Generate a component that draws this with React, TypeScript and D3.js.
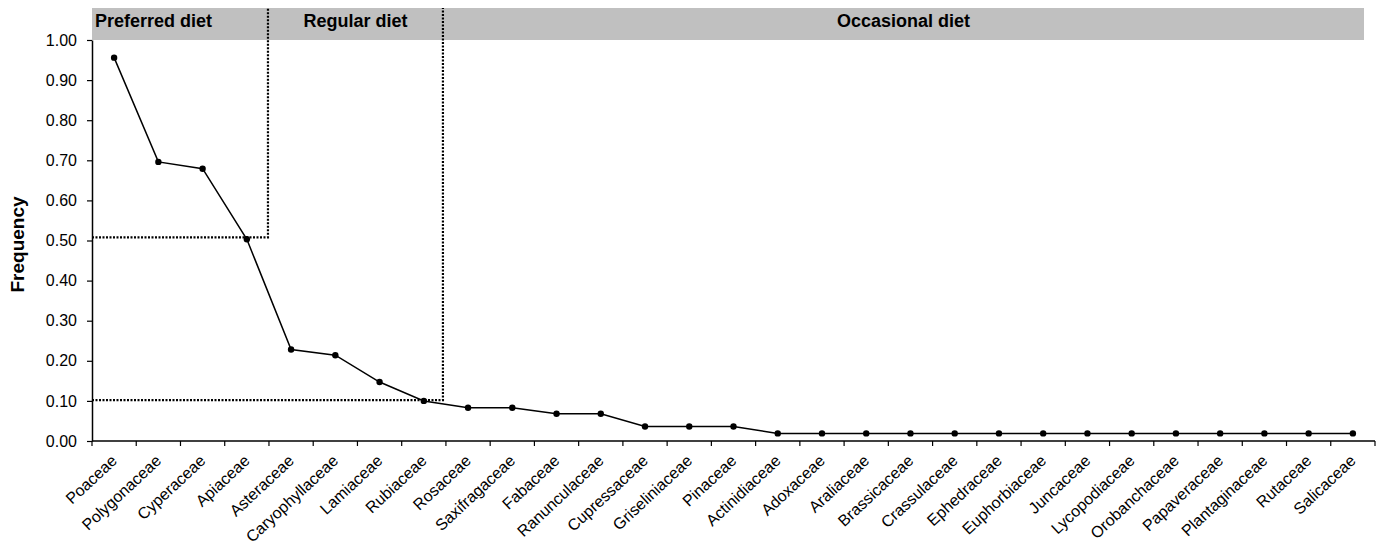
import React, { useEffect, useRef } from "react";
import * as d3 from "d3";

const families = [
  "Poaceae", "Polygonaceae", "Cyperaceae", "Apiaceae", "Asteraceae", "Caryophyllaceae",
  "Lamiaceae", "Rubiaceae", "Rosaceae", "Saxifragaceae", "Fabaceae", "Ranunculaceae",
  "Cupressaceae", "Griseliniaceae", "Pinaceae", "Actinidiaceae", "Adoxaceae", "Araliaceae",
  "Brassicaceae", "Crassulaceae", "Ephedraceae", "Euphorbiaceae", "Juncaceae",
  "Lycopodiaceae", "Orobanchaceae", "Papaveraceae", "Plantaginaceae", "Rutaceae", "Salicaceae",
];

const frequency = [
  0.956, 0.696, 0.679, 0.503, 0.228, 0.214, 0.147, 0.100, 0.083, 0.083, 0.068, 0.068,
  0.036, 0.036, 0.036, 0.019, 0.019, 0.019, 0.019, 0.019, 0.019, 0.019, 0.019,
  0.019, 0.019, 0.019, 0.019, 0.019, 0.019,
];

const yTicks = [0, 0.1, 0.2, 0.3, 0.4, 0.5, 0.6, 0.7, 0.8, 0.9, 1.0];

// diet groups: label, first category index, last category index (exclusive), threshold
const groups = [
  { label: "Preferred diet", from: 0, to: 4, threshold: 0.508 },
  { label: "Regular diet", from: 4, to: 8, threshold: 0.102 },
  { label: "Occasional diet", from: 8, to: 29, threshold: 0 },
];

const FONT = "'Liberation Sans', Arial, sans-serif";

export default function App() {
  const ref = useRef<SVGSVGElement>(null);

  useEffect(() => {
    const width = 1388;
    const height = 550;
    const left = 92, right = 1375, top = 40, bottom = 441;

    const svg = d3.select(ref.current);
    svg.selectAll("*").remove();
    svg.attr("width", width).attr("height", height);

    const x = d3.scaleBand().domain(families).range([left, right]);
    const y = d3.scaleLinear().domain([0, 1]).range([bottom, top]);
    const cx = (d: string) => (x(d) as number) + x.bandwidth() / 2;

    // header band
    svg.append("rect")
      .attr("x", left).attr("y", 8)
      .attr("width", 1364 - left).attr("height", top - 8)
      .attr("fill", "#c0c0c0");

    const edges = [left, (x(families[4]) as number) - 1, (x(families[8]) as number) - 3, 1364];
    groups.forEach((g, i) => {
      const t = svg.append("text")
        .attr("y", 27)
        .attr("font-family", FONT)
        .attr("font-weight", "bold")
        .attr("font-size", 18)
        .attr("fill", "#000")
        .text(g.label);
      if (i === 0) {
        t.attr("x", left + 3);
      } else {
        t.attr("x", (edges[i] + edges[i + 1]) / 2).attr("text-anchor", "middle");
      }
    });

    // dotted threshold lines
    [1, 2].forEach((i) => {
      const xe = edges[i];
      const th = groups[i - 1].threshold;
      svg.append("path")
        .attr("d", `M${left},${y(th)}H${xe}V8`)
        .attr("fill", "none")
        .attr("stroke", "#000")
        .attr("stroke-width", 2.2)
        .attr("stroke-dasharray", "2,1.5");
    });

    // y axis
    const yAxis = svg.append("g")
      .attr("transform", `translate(${left},0)`)
      .call(d3.axisLeft(y).tickValues(yTicks).tickSize(5).tickSizeOuter(0).tickFormat(d3.format(".2f")));
    yAxis.select(".domain").attr("stroke-width", 1.5);
    yAxis.selectAll(".tick line").attr("stroke-width", 1.2);
    yAxis.selectAll("text")
      .attr("font-family", FONT)
      .attr("font-size", 16)
      .attr("fill", "#000")
      .attr("x", -15);

    // x axis
    const xAxis = svg.append("g").attr("transform", `translate(0,${bottom})`);
    xAxis.append("line")
      .attr("x1", left).attr("x2", right)
      .attr("stroke", "#000").attr("stroke-width", 1.5);
    const bounds = families.map((f) => x(f) as number).concat([right]);
    xAxis.selectAll(".xt").data(bounds).enter().append("line")
      .attr("x1", (d) => d).attr("x2", (d) => d)
      .attr("y1", 0).attr("y2", 5)
      .attr("stroke", "#000").attr("stroke-width", 1.2);
    xAxis.selectAll(".xl").data(families).enter().append("text")
      .attr("transform", (d) => `translate(${cx(d) + 4},${21}) rotate(-43)`)
      .attr("text-anchor", "end")
      .attr("font-family", FONT)
      .attr("font-size", 16)
      .attr("fill", "#000")
      .text((d) => d);

    // y label
    svg.append("text")
      .attr("transform", `translate(24,${(top + bottom) / 2 + 4}) rotate(-90)`)
      .attr("text-anchor", "middle")
      .attr("font-family", FONT)
      .attr("font-weight", "bold")
      .attr("font-size", 19)
      .text("Frequency");

    // line and points
    const line = d3.line<number>()
      .x((_, i) => cx(families[i]))
      .y((d) => y(d));
    svg.append("path")
      .datum(frequency)
      .attr("d", line)
      .attr("fill", "none")
      .attr("stroke", "#000")
      .attr("stroke-width", 1.5);
    svg.selectAll(".pt").data(frequency).enter().append("circle")
      .attr("cx", (_, i) => cx(families[i]))
      .attr("cy", (d) => y(d))
      .attr("r", 3.2)
      .attr("fill", "#000");
  }, []);

  return (
    <svg ref={ref} style={{ position: "absolute", left: 0, top: 0, background: "#fff" }} />
  );
}
